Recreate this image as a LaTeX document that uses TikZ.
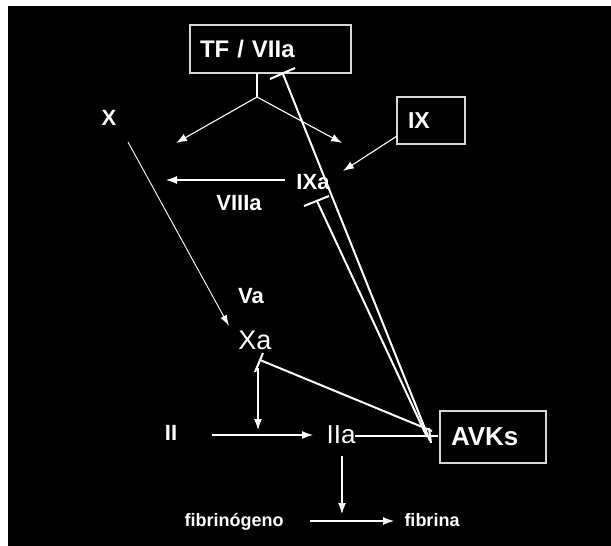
\documentclass[tikz,border=0pt]{standalone}
\usepackage{fontspec}
\setmainfont{Liberation Sans}
\usetikzlibrary{arrows.meta}
\definecolor{boxgray}{RGB}{215,215,215}
\begin{document}
\begin{tikzpicture}[x=1pt,y=-1pt,
  every node/.style={text=white, inner sep=0pt},
  box/.style={draw=boxgray, line width=1.2pt, inner xsep=#1, inner ysep=0pt, align=left},
  lbl/.style={font=\bfseries\fontsize{22}{26}\selectfont, anchor=base},
  big/.style={font=\fontsize{27}{31}\selectfont, anchor=base},
  small/.style={font=\bfseries\fontsize{18}{22}\selectfont, anchor=base},
  arr/.style={draw=white, line width=1.1pt, -{Latex[length=11pt,width=8pt]}},
  thin/.style={draw=white, line width=0.9pt, -{Latex[length=11pt,width=7pt]}},
  inh/.style={draw=white, line width=2pt},
  tbar/.style={draw=white, line width=2pt}]
% background
\fill[white] (0,0) rectangle (611,546);
\fill[black] (8,6) rectangle (611,546);
% boxes
\node[box=10pt, minimum width=161pt, minimum height=48pt, text width=141pt,
      font=\bfseries\fontsize{24}{28}\selectfont] (tf) at (270.5,49) {TF / VIIa};
\node[box=11pt, minimum width=68pt, minimum height=47pt, text width=46pt,
      font=\bfseries\fontsize{23}{27}\selectfont] (ix) at (431,120.5) {IX};
\node[box=11pt, minimum width=106pt, minimum height=52pt, text width=84pt,
      font=\bfseries\fontsize{26}{30}\selectfont] (avk) at (493,437) {AVKs};
% labels
\node[lbl] (x) at (109,125) {X};
\node[lbl] (ixa) at (313,189) {IXa};
\node[lbl] (viiia) at (239,210) {VIIIa};
\node[lbl] (va) at (251,303) {Va};
\node[big] (xa) at (255,349) {Xa};
\node[lbl] (ii) at (171,440) {II};
\node[big, font=\fontsize{26}{30}\selectfont] (iia) at (341,443) {IIa};
\node[small] (fgn) at (234,526) {fibrinógeno};
\node[small] (fib) at (432,526) {fibrina};
% coordinates
\coordinate (br) at (257,97);
\coordinate (tfs) at (257,73);
\coordinate (al) at (176,143);
\coordinate (ar) at (342,143);
\coordinate (ixs) at (397,136);
\coordinate (ixt) at (343,171);
\coordinate (vs) at (285,180);
\coordinate (vt) at (166,180);
\coordinate (xs) at (128,142);
\coordinate (xt) at (229,326);
\coordinate (xas) at (258,368);
\coordinate (xat) at (258,430);
\coordinate (iis) at (212,435);
\coordinate (iit) at (313,435);
\coordinate (iias) at (342,456);
\coordinate (iiat) at (342,514);
\coordinate (fs) at (310,521);
\coordinate (ft) at (394,521);
% activation arrows
\draw[white, line width=1.1pt] (tfs) -- (br);
\draw[arr] (br) -- (al);
\draw[arr] (br) -- (ar);
\draw[arr] (ixs) -- (ixt);
\draw[arr] (vs) -- (vt);
\draw[thin] (xs) -- (xt);
\draw[arr] (xas) -- (xat);
\draw[arr] (iis) -- (iit);
\draw[arr] (iias) -- (iiat);
\draw[arr] (fs) -- (ft);
% inhibition lines from AVKs
\coordinate (a1) at (430,441);
\coordinate (a2) at (427,437);
\coordinate (a3) at (432,431);
\coordinate (a4) at (438,436);
\coordinate (i1) at (283,74);
\coordinate (i2) at (317,201);
\coordinate (i3) at (260,360);
\coordinate (i4) at (355,436);
\draw[inh] (a1) -- (i1);
\draw[tbar] (270,79) -- (295,68);
\draw[inh] (a2) -- (i2);
\draw[tbar] (304,206) -- (329,196);
\draw[inh] (a3) -- (i3);
\draw[tbar] (255,372) -- (263,353);
\draw[inh] (a4) -- (i4);
\draw[tbar] (429,428) -- (431,443);
\end{tikzpicture}
\end{document}
